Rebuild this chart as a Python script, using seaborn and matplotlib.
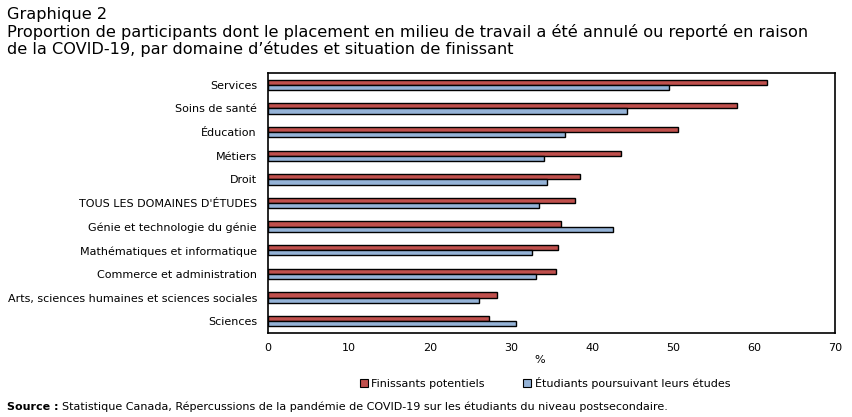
import pandas as pd
import matplotlib
matplotlib.use("Agg")
import matplotlib.pyplot as plt
import seaborn as sns
from matplotlib.patches import Patch

# ---------------------------------------------
# Data (%)
# ---------------------------------------------
domaines = [
    "Services",
    "Soins de santé",
    "Éducation",
    "Métiers",
    "Droit",
    "TOUS LES DOMAINES D'ÉTUDES",
    "Génie et technologie du génie",
    "Mathématiques et informatique",
    "Commerce et administration",
    "Arts, sciences humaines et sciences sociales",
    "Sciences",
]
finissants = [61.6, 57.9, 50.6, 43.6, 38.5, 37.9, 36.2, 35.8, 35.6, 28.3, 27.3]
poursuivant = [49.5, 44.3, 36.7, 34.1, 34.4, 33.5, 42.6, 32.6, 33.1, 26.0, 30.6]
series = ["Finissants potentiels", "Étudiants poursuivant leurs études"]
x_ticks = [0, 10, 20, 30, 40, 50, 60, 70]

colors = ["#C0504D", "#95B3D7"]

df = pd.DataFrame({
    "domaine": domaines * 2,
    "valeur": finissants + poursuivant,
    "serie": [series[0]] * len(domaines) + [series[1]] * len(domaines),
})

# ---------------------------------------------
# Figure
# ---------------------------------------------
sns.set_style("white")
plt.rcParams["font.family"] = ["DejaVu Sans"]
plt.rcParams["text.color"] = "black"
plt.rcParams["axes.labelcolor"] = "black"
plt.rcParams["xtick.color"] = "black"
plt.rcParams["ytick.color"] = "black"

fig = plt.figure(figsize=(8.52, 4.17), dpi=100)
ax = fig.add_axes([268 / 852, 1 - 333 / 417, (835 - 268) / 852, (333 - 73) / 417])

sns.barplot(data=df, y="domaine", x="valeur", hue="serie", order=domaines,
            hue_order=series, palette=colors, saturation=1, orient="h",
            width=0.44, gap=0, edgecolor="black", linewidth=1, legend=False, ax=ax)

ax.set_xlim(0, 70)
ax.set_ylim(len(domaines) - 0.5, -0.5)
ax.set_xticks(x_ticks)
ax.set_xticklabels([str(t) for t in x_ticks], fontsize=8)
ax.set_yticklabels(domaines, fontsize=8)
ax.tick_params(axis="x", direction="in", length=4, width=1, pad=7)
ax.tick_params(axis="y", length=0, pad=8)
ax.set_yticks([i + 0.5 for i in range(len(domaines) - 1)], minor=True)
ax.tick_params(axis="y", which="minor", direction="in", length=4, width=1)
ax.set_xlabel("%", fontsize=8)
ax.xaxis.set_label_coords((540 - 268) / 567, -0.085)
ax.set_ylabel("")
for s in ax.spines.values():
    s.set_visible(True)
    s.set_color("black")
    s.set_linewidth(1.2)

# Titles
title_kw = dict(fontsize=11.6, va="center", ha="left")
fig.text(7 / 852, 1 - 14 / 417, "Graphique 2", **title_kw)
fig.text(7 / 852, 1 - 32 / 417,
         "Proportion de participants dont le placement en milieu de travail a été annulé ou reporté en raison",
         **title_kw)
fig.text(7 / 852, 1 - 49 / 417,
         "de la COVID-19, par domaine d’études et situation de finissant", **title_kw)

# Legend
handles = [Patch(facecolor=c, edgecolor="black", linewidth=0.8) for c in colors]
fig.legend(handles, series, loc="center", bbox_to_anchor=(545 / 852, 1 - 383 / 417),
           ncol=2, frameon=False, fontsize=8, handlelength=0.7, handleheight=0.7,
           handletextpad=0.3, columnspacing=3.5)

# Source
src = fig.text(7 / 852, 1 - 407 / 417, "Source :", fontsize=8, fontweight="bold",
               va="center", ha="left")
fig.canvas.draw()
bb = src.get_window_extent().transformed(fig.transFigure.inverted())
fig.text(bb.x1 + 3 / 852, 1 - 407 / 417,
         "Statistique Canada, Répercussions de la pandémie de COVID-19 sur les étudiants du niveau postsecondaire.",
         fontsize=8, va="center", ha="left")

fig.savefig("out.png", dpi=100)
